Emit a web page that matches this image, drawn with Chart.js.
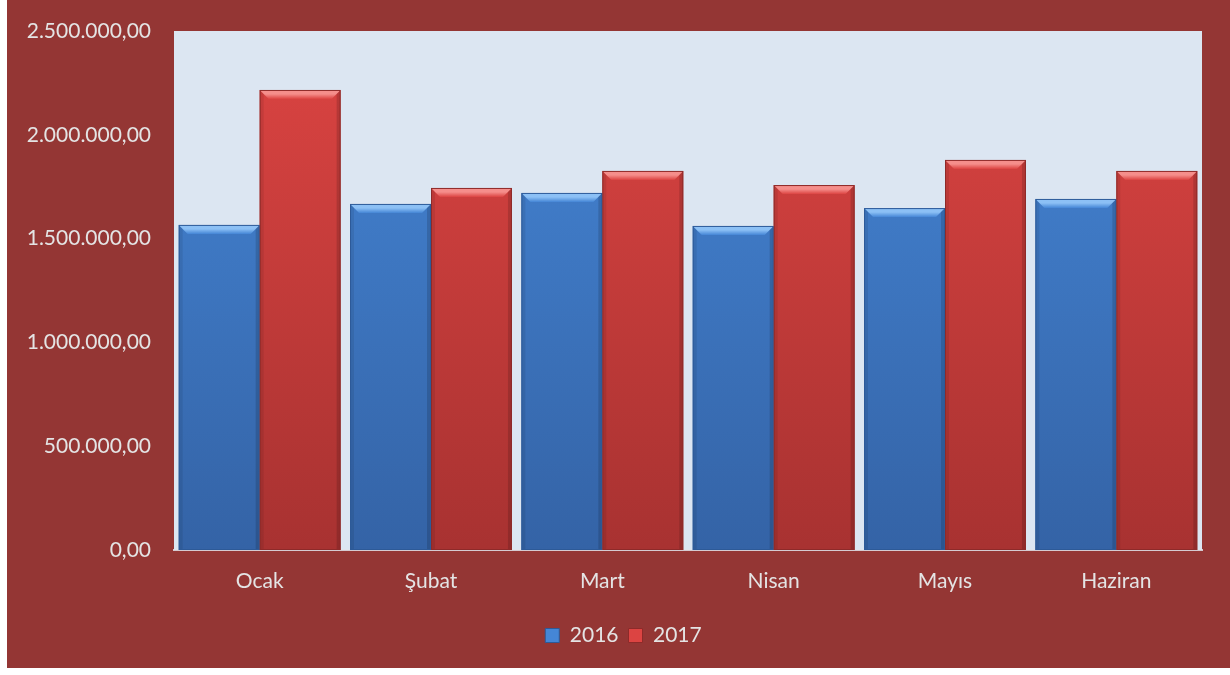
<!DOCTYPE html>
<html>
<head>
<meta charset="utf-8">
<script src="https://cdn.jsdelivr.net/npm/chart.js@4/dist/chart.umd.min.js"></script>
<style>
  html, body { margin: 0; padding: 0; background: #ffffff; }
  #kutu { position: absolute; left: 7px; top: 0; width: 1223px; height: 668px; background: #943634; }
</style>
</head>
<body>
<div id="kutu"><canvas id="grafik"></canvas></div>
<script>
// veriler
const aylar = ["Ocak", "Şubat", "Mart", "Nisan", "Mayıs", "Haziran"];
const yil2016 = [1566000, 1667000, 1720000, 1561000, 1647000, 1691000];
const yil2017 = [2216000, 1744000, 1826000, 1758000, 1879000, 1826000];
const yillar = ["2016", "2017"];
const eksenMax = 2500000;
const eksenAdim = 500000;

// tr formatinda sayi: 2.500.000,00
function trFormat(v) {
    const tam = Math.round(v).toString().replace(/\B(?=(\d{3})+(?!\d))/g, ".");
    return tam + ",00";
}

const renkler = {
    mavi: { ust: "#4586d6", alt: "#3463a6", kenar: "#2d5a98", bevel: "#8cc0f5" },
    kirmizi: { ust: "#dc4442", alt: "#a83231", kenar: "#8e2a29", bevel: "#f58e8b" }
};

function dolgu(renk) {
    return (ctx) => {
        const chart = ctx.chart;
        const area = chart.chartArea;
        if (!area) return renk.ust;
        const g = chart.ctx.createLinearGradient(0, area.top, 0, area.bottom);
        g.addColorStop(0, renk.ust);
        g.addColorStop(1, renk.alt);
        return g;
    };
}

// arka plan (cizim alani acik mavi)
const arkaPlan = {
    id: "arkaPlan",
    afterLayout(chart) {
        // lejant biraz saga kaysin (orijinaldeki gibi)
        chart.legend.left += 19;
        chart.legend.right += 19;
    },
    beforeDraw(chart) {
        const { ctx, chartArea } = chart;
        ctx.save();
        ctx.fillStyle = "#dce6f2";
        ctx.fillRect(chartArea.left, chartArea.top, chartArea.right - chartArea.left, chartArea.bottom - chartArea.top);
        ctx.restore();
    }
};

// cubuklarin ust kismindaki kabartma efekti
const kabartma = {
    id: "kabartma",
    afterDatasetsDraw(chart) {
        const ctx = chart.ctx;
        chart.data.datasets.forEach((ds, i) => {
            const meta = chart.getDatasetMeta(i);
            const renk = i === 0 ? renkler.mavi : renkler.kirmizi;
            meta.data.forEach((bar) => {
                const sol = bar.x - bar.width / 2;
                const sag = bar.x + bar.width / 2;
                const ust = bar.y;
                const alt = bar.base;
                const b = 9;
                ctx.save();
                // ust bevel
                const g = ctx.createLinearGradient(0, ust, 0, ust + b);
                g.addColorStop(0, renk.bevel);
                g.addColorStop(0.45, renk.bevel);
                g.addColorStop(1, renk.ust);
                ctx.fillStyle = g;
                ctx.beginPath();
                ctx.moveTo(sol, ust);
                ctx.lineTo(sag, ust);
                ctx.lineTo(sag - b, ust + b);
                ctx.lineTo(sol + b, ust + b);
                ctx.closePath();
                ctx.fill();
                // yan golgeler
                ctx.fillStyle = "rgba(0,0,0,0.14)";
                ctx.beginPath();
                ctx.moveTo(sag, ust);
                ctx.lineTo(sag, alt);
                ctx.lineTo(sag - 4, alt);
                ctx.lineTo(sag - 4, ust + 4);
                ctx.closePath();
                ctx.fill();
                ctx.fillStyle = "rgba(0,0,0,0.08)";
                ctx.beginPath();
                ctx.moveTo(sol, ust);
                ctx.lineTo(sol + 4, ust + 4);
                ctx.lineTo(sol + 4, alt);
                ctx.lineTo(sol, alt);
                ctx.closePath();
                ctx.fill();
                ctx.strokeStyle = renk.kenar;
                ctx.lineWidth = 1;
                ctx.strokeRect(sol + 0.5, ust + 0.5, bar.width - 1, alt - ust - 1);
                ctx.restore();
            });
        });
    }
};

const yaziRengi = "#e4e4e4";
const yazi = { family: "Lato, 'Open Sans', sans-serif", size: 21 };

new Chart(document.getElementById("grafik"), {
    type: "bar",
    data: {
        labels: aylar,
        datasets: [
            {
                label: yillar[0],
                data: yil2016,
                backgroundColor: dolgu(renkler.mavi),
                borderWidth: 0,
                categoryPercentage: 0.945,
                barPercentage: 1
            },
            {
                label: yillar[1],
                data: yil2017,
                backgroundColor: dolgu(renkler.kirmizi),
                borderWidth: 0,
                categoryPercentage: 0.945,
                barPercentage: 1
            }
        ]
    },
    options: {
        responsive: true,
        maintainAspectRatio: false,
        animation: false,
        layout: { padding: { top: 31, right: 28, left: 0, bottom: 12 } },
        scales: {
            x: {
                grid: { display: false, drawTicks: false },
                border: { display: true, color: "rgba(225,228,236,0.85)", width: 2 },
                ticks: { color: yaziRengi, font: yazi, padding: 19 },
                afterFit(scale) { scale.height = 65; }
            },
            y: {
                min: 0,
                max: eksenMax,
                grid: { display: false, drawTicks: false },
                border: { display: false },
                ticks: {
                    stepSize: eksenAdim,
                    color: yaziRengi,
                    font: yazi,
                    padding: 23,
                    callback: (v) => trFormat(v)
                },
                afterFit(scale) {
                    scale.width = 167;
                    scale.paddingTop = 0;
                    scale.paddingBottom = 0;
                }
            }
        },
        plugins: {
            legend: {
                position: "bottom",
                labels: {
                    color: yaziRengi,
                    font: yazi,
                    boxWidth: 14,
                    boxHeight: 14,
                    padding: 10,
                    generateLabels(chart) {
                        return chart.data.datasets.map((ds, i) => ({
                            text: ds.label,
                            fillStyle: i === 0 ? renkler.mavi.ust : renkler.kirmizi.ust,
                            strokeStyle: i === 0 ? renkler.mavi.kenar : renkler.kirmizi.kenar,
                            lineWidth: 1,
                            fontColor: yaziRengi,
                            datasetIndex: i,
                            hidden: false
                        }));
                    }
                }
            },
            tooltip: { enabled: false }
        }
    },
    plugins: [arkaPlan, kabartma]
});
</script>
</body>
</html>
